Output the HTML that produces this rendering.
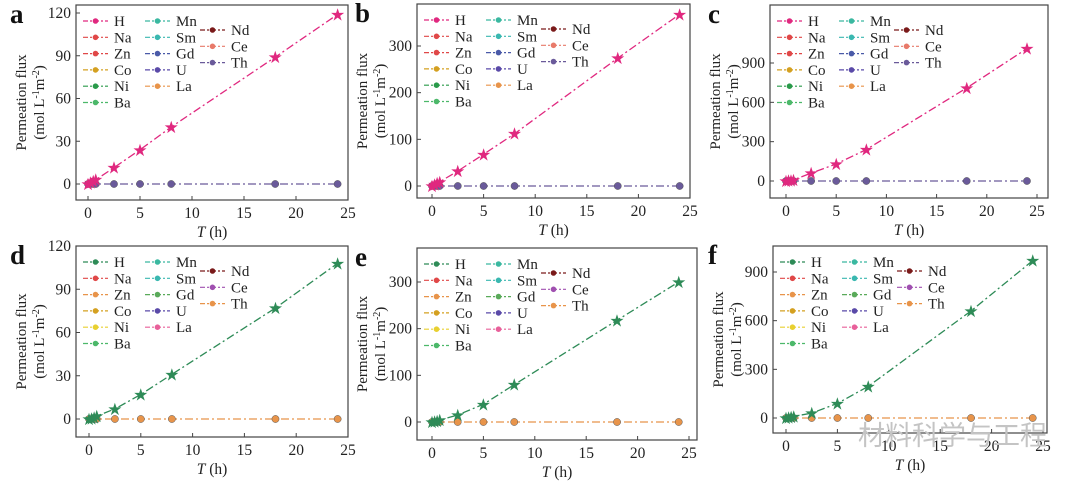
<!DOCTYPE html><html><head><style>body{margin:0;background:#fff}svg{display:block}text{font-family:"Liberation Serif",serif;fill:#222}</style></head><body>
<svg id="s" width="1080" height="482" viewBox="0 0 1080 482" xmlns="http://www.w3.org/2000/svg"></svg>
<script>
const s=document.getElementById('s');let h='';
const T=[0,0.25,0.5,0.75,2.5,5,8,18,24];
const P=[
{l:'a',L:76,R:348,t:5,b:200,x0:88,x25:348,y0:184,yt:[0,30,60,90,120],yv:13,H:[0,1,2,3,11.5,24,40,89,119],hc:'#e0287f',tc:'#6a5a9a',lab:60,top:true},
{l:'b',L:417,R:690,t:4,b:198,x0:432,x25:690,y0:186,yt:[0,100,200,300],yv:46,H:[0,3,6,9,32,68,112,274,368],hc:'#e0287f',tc:'#6a5a9a',lab:405,top:true},
{l:'c',L:770,R:1048,t:5,b:198,x0:786,x25:1037,y0:181,yt:[0,300,600,900],yv:63,H:[0,2,5,9,60,130,240,710,1010],hc:'#e0287f',tc:'#6a5a9a',lab:758,top:true},
{l:'d',L:76,R:348,t:246,b:437,x0:89,x25:348,y0:419,yt:[0,30,60,90,120],yv:246,H:[0,0.5,1,2,7,17,31,77,108],hc:'#2e8b57',tc:'#e8944a',lab:60,top:false},
{l:'e',L:417,R:697,t:248,b:440,x0:432,x25:689,y0:422,yt:[0,100,200,300],yv:282,H:[0,1,2,4,15,38,80,218,300],hc:'#2e8b57',tc:'#e8944a',lab:405,top:false},
{l:'f',L:773,R:1047,t:246,b:433,x0:786,x25:1043,y0:418,yt:[0,300,600,900],yv:272,H:[0,3,6,10,30,90,195,660,970],hc:'#2e8b57',tc:'#e8944a',lab:758,top:false}];
const top1=['H','Na','Zn','Co','Ni','Ba'],top2=['Mn','Sm','Gd','U','La'],top3t=['Nd','Ce','Th'];
const c1=['#e0287f','#e04848','#e04848','#d4a020','#2a9a4a','#4cb86a'],c2=['#3ab8a0','#3ab8b0','#4a5aa8','#5a4aa8','#e8944a'],c3=['#7a1a1a','#e87a6a','#6a5a9a'];
const c1b=['#2e8b57','#e04848','#e8944a','#d4a020','#e8d030','#4cb86a'],c2b=['#3ab8a0','#3ab8b0','#5aaa5a','#5a4aa8','#e8609a'],c3b=['#7a1a1a','#a050b0','#e8944a'];
P.forEach(p=>{
 const X=v=>p.x0+(p.x25-p.x0)*v/25, Y=v=>p.y0-(p.y0-p.yv)*v/p.yt[p.yt.length-1];
 h+=`<rect x="${p.L}" y="${p.t}" width="${p.R-p.L}" height="${p.b-p.t}" fill="none" stroke="#444" stroke-width="1.2"/>`;
 h+=`<text x="${p.lab-50}" y="${p.t+18}" font-size="27" font-weight="bold" style="fill:#111">${p.l}</text>`;
 [0,5,10,15,20,25].forEach(v=>{h+=`<line x1="${X(v)}" x2="${X(v)}" y1="${p.b}" y2="${p.b-4}" stroke="#444"/><text x="${X(v)}" y="${p.b+18}" font-size="15.5" text-anchor="middle">${v}</text>`});
 p.yt.forEach(v=>{h+=`<line x1="${p.L}" x2="${p.L+4}" y1="${Y(v)}" y2="${Y(v)}" stroke="#444"/><text x="${p.L-5}" y="${Y(v)+5}" font-size="15.5" text-anchor="end">${v}</text>`});
 h+=`<text x="${(p.L+p.R)/2}" y="${p.b+37}" font-size="15.5" text-anchor="middle"><tspan font-style="italic">T</tspan> (h)</text>`;
 const cx=p.L-50,cy=(p.t+p.b)/2;
 h+=`<text transform="translate(${cx} ${cy}) rotate(-90)" font-size="15" text-anchor="middle">Permeation flux</text>`;
 h+=`<text transform="translate(${cx+18} ${cy}) rotate(-90)" font-size="15" text-anchor="middle">(mol L<tspan dy="-5" font-size="10">-1</tspan><tspan dy="5">m</tspan><tspan dy="-5" font-size="10">-2</tspan><tspan dy="5">)</tspan></text>`;
 h+=`<line x1="${X(0)}" x2="${X(24)}" y1="${p.y0}" y2="${p.y0}" stroke="${p.tc}" stroke-width="1.3" stroke-dasharray="8,3,2,3"/>`;
 T.forEach(t=>{h+=`<circle cx="${X(t)}" cy="${p.y0}" r="3.6" fill="${p.tc}" stroke="#555" stroke-width=".5"/>`});
 const pts=T.map((t,i)=>X(t)+','+Y(p.H[i])).join(' ');
 h+=`<polyline points="${pts}" fill="none" stroke="${p.hc}" stroke-width="1.3" stroke-dasharray="8,3,2,3"/>`;
 T.forEach((t,i)=>{h+=`<text x="${X(t)}" y="${Y(p.H[i])+6}" font-size="17" text-anchor="middle" style="fill:${p.hc}">★</text>`});
 const cs=[p.top?c1:c1b,p.top?c2:c2b,p.top?c3:c3b];
 const cols=[[top1,p.L+7,p.t+16],[top2,p.L+69,p.t+16],[top3t,p.L+124,p.t+25]];
 cols.forEach((c,ci)=>c[0].forEach((n,i)=>{const y=c[2]+i*16.3,x=c[1];
  h+=`<line x1="${x}" x2="${x+25}" y1="${y}" y2="${y}" stroke="${cs[ci][i]}" stroke-width="1.2" stroke-dasharray="5,2,2,2"/><circle cx="${x+12.5}" cy="${y}" r="2.8" fill="${cs[ci][i]}"/><text x="${x+31}" y="${y+5}" font-size="15">${n}</text>`;}));
});
h+=`<text x="858" y="445" font-size="27" style="fill:#c4c4c4;font-family:'Noto Sans CJK SC',sans-serif">材料科学与工程</text>`;
s.innerHTML=h;
</script></body></html>
